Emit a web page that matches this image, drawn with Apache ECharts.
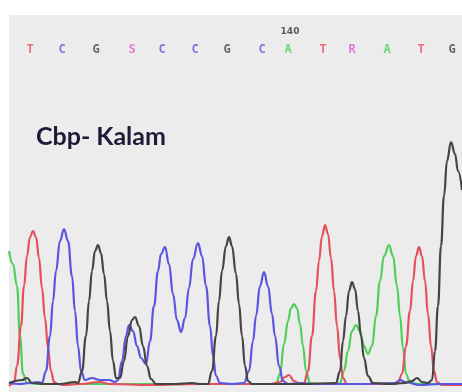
<!DOCTYPE html>
<html><head><meta charset="utf-8">
<script src="https://cdn.jsdelivr.net/npm/echarts@6/dist/echarts.min.js"></script>
<style>html,body{margin:0;padding:0;background:#fff}#c{width:462px;height:392px}</style>
</head><body><div id="c"></div>
<script>
// Base calls (sequence ticks) and their scan positions
const seqLetters = ['T','C','G','S','C','C','G','C','A','T','R','A','T','G'];
const seqPositions = [30,62,96,132,162,195,227,262,288,323,352,387,421,452];
const positionLabel = '140';
const positionLabelX = 290;

// Trace intensities: [scan position, signal]
const traceT = [[9,0],[14,3],[17,20],[21,60],[24,100],[27,130],[30,149],[33,155],[36,149],[39,128],[42,98],[45,68],[48,38],[51,15],[54,4],[58,2],[64,1],[80,2],[100,4],[110,2],[150,1],[200,2],[270,2],[280,4],[285,9],[289,11],[294,5],[300,2],[304,3],[308,15],[312,50],[316,95],[319,125],[322,150],[325,161],[328,152],[331,128],[334,95],[337,60],[340,28],[343,8],[347,2],[360,2],[380,2],[395,2],[398,3],[402,12],[406,40],[410,75],[413,105],[416,130],[419,139],[422,130],[425,105],[428,72],[431,40],[434,15],[437,4],[442,1],[462,1]];
const traceC = [[9,3],[20,2],[30,3],[38,4],[42,3],[46,15],[50,50],[53,85],[56,115],[60,145],[64,157],[68,145],[72,110],[75,75],[78,40],[81,15],[85,6],[92,8],[100,6],[109,6],[115,4],[118,6],[122,25],[126,50],[129,61],[133,55],[137,40],[141,28],[146,22],[150,45],[154,80],[158,115],[161,132],[165,139],[169,122],[173,92],[177,66],[181,54],[185,68],[189,98],[193,127],[198,143],[202,130],[206,100],[210,60],[213,30],[216,10],[220,3],[232,2],[244,3],[249,15],[253,45],[256,70],[260,100],[264,114],[268,100],[272,72],[275,50],[279,20],[283,5],[288,2],[300,3],[315,2],[360,2],[395,3],[400,6],[405,4],[420,1],[440,2],[462,2]];
const traceG = [[9,3],[22,6],[27,8],[32,3],[45,2],[60,2],[75,4],[78,3],[82,15],[86,50],[89,85],[92,115],[95,135],[98,141],[101,133],[104,112],[107,85],[110,55],[113,25],[116,8],[120,8],[124,25],[128,50],[132,66],[135,69],[139,60],[143,40],[147,20],[151,7],[156,2],[175,2],[192,3],[200,2],[208,2],[212,15],[216,50],[219,85],[222,115],[226,140],[229,149],[232,140],[236,112],[239,82],[242,50],[245,20],[248,5],[252,2],[300,2],[336,3],[340,15],[343,45],[346,70],[349,95],[352,104],[355,97],[358,75],[361,50],[364,28],[368,10],[373,3],[390,2],[405,3],[412,5],[417,8],[422,4],[428,3],[432,6],[435,35],[438,80],[441,140],[444,190],[447,225],[451,244],[455,232],[458,215],[462,196]];
const traceA = [[9,135],[13,122],[17,100],[20,50],[23,12],[27,3],[40,2],[60,2],[150,2],[270,2],[276,2],[280,12],[284,42],[288,65],[291,78],[294,82],[297,78],[300,62],[303,40],[306,15],[310,3],[320,2],[336,2],[340,3],[344,15],[348,35],[352,55],[356,61],[360,55],[364,40],[368,32],[372,40],[376,70],[380,105],[384,130],[389,141],[393,130],[397,100],[400,70],[403,38],[406,12],[410,3],[420,2],[462,2]];

const baseColors = {T:'#e6505e', C:'#5a55e0', G:'#444444', A:'#4fcf5a', S:'#e060c8', R:'#e060c8'};

const chart = echarts.init(document.getElementById('c'), null, {renderer:'canvas'});
function trace(data, color){
  return {type:'line', xAxisIndex:0, yAxisIndex:0, data:data, showSymbol:false, smooth:0.45,
    smoothMonotone:'x', lineStyle:{color:color, width:2.2}, z:3, silent:true, animation:false};
}
chart.setOption({
  animation:false,
  graphic:[{type:'rect', shape:{x:9, y:15, width:453, height:377}, style:{fill:'#ececec'}, z:-10}],
  title:{text:'Cbp- Kalam', left:31, top:119, textStyle:{fontFamily:'Lato', fontWeight:'bold', fontSize:25, color:'#1c1c38'}},
  grid:[{left:9, right:0, top:136, bottom:6}, {left:9, right:0, top:20, height:40}],
  xAxis:[{type:'value', min:9, max:462, show:false, gridIndex:0},
         {type:'value', min:9, max:462, show:false, gridIndex:1}],
  yAxis:[{type:'value', min:0, max:250, show:false, gridIndex:0},
         {type:'value', min:0, max:10, show:false, gridIndex:1}],
  series:[
    trace(traceA, baseColors.A),
    trace(traceT, baseColors.T),
    trace(traceC, baseColors.C),
    trace(traceG, baseColors.G),
    {type:'scatter', xAxisIndex:1, yAxisIndex:1, symbolSize:0, silent:true,
     data:seqPositions.map((x,i)=>({value:[x,2.5], label:{color:baseColors[seqLetters[i]]}, name:seqLetters[i]})),
     label:{show:true, position:'inside', formatter:p=>p.name, fontFamily:'DejaVu Sans Mono', fontWeight:'bold', fontSize:12}},
    {type:'scatter', xAxisIndex:1, yAxisIndex:1, symbolSize:0, silent:true,
     data:[{value:[positionLabelX,7], name:positionLabel}],
     label:{show:true, position:'inside', formatter:p=>p.name, fontFamily:'DejaVu Sans', fontWeight:'bold', fontSize:9, color:'#333'}}
  ]
});
</script></body></html>
